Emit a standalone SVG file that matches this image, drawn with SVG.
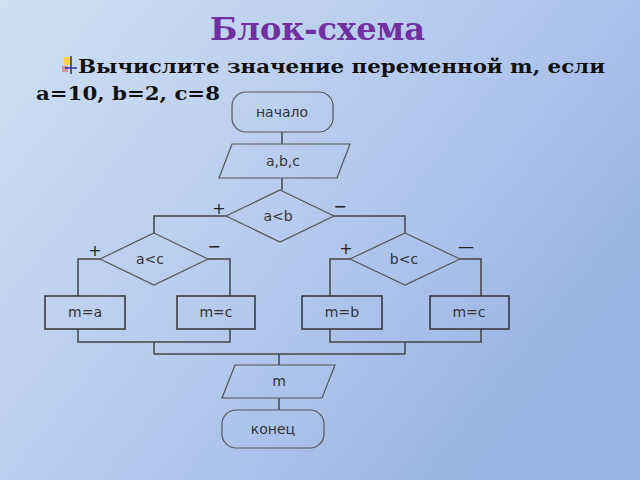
<svg xmlns="http://www.w3.org/2000/svg" width="640" height="480" viewBox="0 0 640 480">
<defs>
<linearGradient id="bg" x1="0" y1="0" x2="1" y2="0.6">
<stop offset="0" stop-color="#cfe0f3"/><stop offset="0.6" stop-color="#b2c8ec"/><stop offset="1" stop-color="#98b3e3"/>
</linearGradient>
<style>
.s{fill:none;stroke:#555;stroke-width:1.2}
.b{fill:none;stroke:#333;stroke-width:1.5}
.l{fill:none;stroke:#444;stroke-width:1.5}
.t{font-family:"DejaVu Sans",sans-serif;font-size:14px;fill:#333;text-anchor:middle}
.p{font-family:"DejaVu Sans",sans-serif;font-size:16px;fill:#222;text-anchor:middle}
</style>
</defs>
<rect width="640" height="480" fill="url(#bg)"/>
<text x="210" y="40" font-family="DejaVu Serif, serif" font-weight="bold" font-size="31" fill="#7030a0" textLength="215" lengthAdjust="spacingAndGlyphs">Блок-схема</text>
<g font-family="DejaVu Serif, serif" font-weight="bold" font-size="19" fill="#111">
<rect x="64" y="57" width="8" height="8" fill="#f6d24a"/><rect x="62" y="66" width="6" height="6" fill="#e06060" opacity="0.6"/>
<line x1="71" y1="56" x2="71" y2="74" stroke="#333" stroke-width="1.5"/><line x1="65" y1="68" x2="77" y2="68" stroke="#2a36a0" stroke-width="1.5"/>
<text x="78" y="73" textLength="527" lengthAdjust="spacingAndGlyphs">Вычислите значение переменной m, если</text>
<text x="36" y="100" textLength="184" lengthAdjust="spacingAndGlyphs">a=10, b=2, c=8</text>
</g>
<g id="connectors">
<path class="l" d="M282 132V144M282 178V190"/>
<path class="l" d="M226 216H154V233M334 216H405V233"/>
<path class="l" d="M100 259H78V296M208 259H230V296M350 259H330V296M460 259H481V296"/>
<path class="l" d="M78 329V342H230V329M154 342V354M330 329V342H481V329M405 342V354M154 354H405M279 354V365M279 398V410"/>
</g>
<g id="start"><rect class="s" x="232" y="92" width="101" height="40" rx="14"/><text class="t" x="282" y="117">начало</text></g>
<g id="input"><polygon class="s" points="232,144 350,144 337,178 219,178"/><text class="t" x="283" y="166">a,b,c</text></g>
<g id="d1"><polygon class="s" points="280,190 334,216 280,242 226,216"/><text class="t" x="278" y="221">a&lt;b</text>
<text class="p" x="219" y="214">+</text><text class="p" x="340" y="212">−</text></g>
<g id="d2"><polygon class="s" points="154,233 208,259 154,285 100,259"/><text class="t" x="150" y="264">a&lt;c</text>
<text class="p" x="95" y="256">+</text><text class="p" x="214" y="252">−</text></g>
<g id="d3"><polygon class="s" points="405,233 460,259 405,285 350,259"/><text class="t" x="404" y="264">b&lt;c</text>
<text class="p" x="346" y="254">+</text><text class="p" x="466" y="252" font-size="13">—</text></g>
<g id="n1"><rect class="b" x="45" y="296" width="80" height="33"/><text class="t" x="85" y="317">m=a</text></g>
<g id="n2"><rect class="b" x="177" y="296" width="78" height="33"/><text class="t" x="216" y="317">m=c</text></g>
<g id="n3"><rect class="b" x="302" y="296" width="80" height="33"/><text class="t" x="342" y="317">m=b</text></g>
<g id="n4"><rect class="b" x="430" y="296" width="79" height="33"/><text class="t" x="469" y="317">m=c</text></g>
<g id="output"><polygon class="s" points="235,365 335,365 322,398 222,398"/><text class="t" x="279" y="386">m</text></g>
<g id="end"><rect class="s" x="222" y="410" width="102" height="38" rx="14"/><text class="t" x="273" y="434">конец</text></g>
</svg>
